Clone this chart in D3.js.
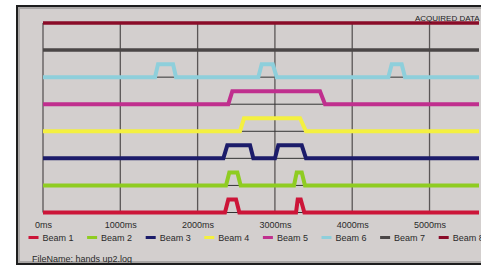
<!DOCTYPE html>
<html><head><meta charset="utf-8">
<script src="https://cdn.jsdelivr.net/npm/d3@7"></script>
<style>html,body{margin:0;padding:0;background:#fff;overflow:hidden}svg{display:block}</style>
</head><body><svg id="c" width="481" height="267"></svg>
<script>
// Data: transitions [time ms, level 0/1] per beam
const beamNames = ["Beam 1","Beam 2","Beam 3","Beam 4","Beam 5","Beam 6","Beam 7","Beam 8"];
const beamColors = ["#cc1538","#8fcc22","#1c1c6a","#f4f040","#c02f8e","#8ecfdb","#4a4646","#8a0c28"];
const beam1 = [[0,0],[2354,0],[2397,1],[2497,1],[2540,0],[3273,0],[3295,1],[3334,1],[3381,0],[5650,0]];
const beam2 = [[0,0],[2367,0],[2410,1],[2514,1],[2557,0],[3247,0],[3282,1],[3347,1],[3389,0],[5650,0]];
const beam3 = [[0,0],[2333,0],[2384,1],[2678,1],[2721,0],[3001,0],[3044,1],[3347,1],[3402,0],[5650,0]];
const beam4 = [[0,0],[2548,0],[2600,1],[3325,1],[3402,0],[5650,0]];
const beam5 = [[0,0],[2397,0],[2449,1],[3583,1],[3648,0],[5650,0]];
const beam6 = [[0,0],[1449,0],[1488,1],[1682,1],[1721,0],[2785,0],[2829,1],[2972,1],[3023,0],[4467,0],[4511,1],[4640,1],[4683,0],[5650,0]];
const beam7 = [[0,0],[5650,0]];
const beam8 = [[0,0],[5650,0]];
const beamData = [beam1,beam2,beam3,beam4,beam5,beam6,beam7,beam8];
const tickValues = [0,1000,2000,3000,4000,5000];
const tickLabels = ["0ms","1000ms","2000ms","3000ms","4000ms","5000ms"];
const title = "ACQUIRED DATA";
const fileName = "FileName: hands up2.log";

const svg = d3.select("#c");
// frame
svg.append("rect").attr("x",16).attr("y",5).attr("width",480).attr("height",260).attr("fill","#1e1e1e");
svg.append("rect").attr("x",18).attr("y",7).attr("width",480).attr("height",256).attr("fill","#a9a6a5");
svg.append("rect").attr("x",20).attr("y",9).attr("width",480).attr("height",252).attr("fill","#d3cfce");

const x = d3.scaleLinear().domain([0,5640]).range([43,479]);
const yBase = d3.scalePoint().domain(beamNames).range([212.5,23]);
const yLevel = d3.scaleLinear().domain([0,1]).range([0,-13]);

const g = svg.append("g");
svg.append("clipPath").attr("id","pc").append("rect").attr("x",30).attr("y",10).attr("width",449).attr("height",210);

// grid
g.selectAll("line.v").data(tickValues).join("line")
 .attr("x1",d=>x(d)).attr("x2",d=>x(d)).attr("y1",yBase("Beam 8")).attr("y2",yBase("Beam 1"))
 .attr("stroke","#5a5656").attr("stroke-width",1.3);
g.selectAll("line.h").data(beamNames).join("line")
 .attr("x1",x(0)).attr("x2",x(5640)).attr("y1",d=>yBase(d)).attr("y2",d=>yBase(d))
 .attr("stroke","#333").attr("stroke-width",1);

const line = d3.line();
const lg = g.append("g").attr("clip-path","url(#pc)");
beamData.forEach((pts,i)=>{
  const b = yBase(beamNames[i]);
  lg.append("path").attr("d", line(pts.map(p=>[x(p[0]), b + yLevel(p[1])])))
    .attr("fill","none").attr("stroke",beamColors[i]).attr("stroke-width",i>=6?3.5:4)
    .attr("stroke-linejoin","miter");
});

// axis labels
const ax = d3.axisBottom(x).tickValues(tickValues).tickFormat((d,i)=>tickLabels[i]).tickSize(0).tickPadding(0);
const axg = svg.append("g").attr("transform","translate(0,222)").call(ax);
axg.select(".domain").remove();
axg.selectAll("text").attr("font-family","Liberation Sans, Arial, sans-serif").attr("font-size","9px").attr("fill","#2a2a2a");

// legend
const leg = svg.append("g");
beamNames.forEach((n,i)=>{
  const tx = 42.5 + i*58.6;
  leg.append("rect").attr("x",tx-14).attr("y",236).attr("width",10).attr("height",3).attr("fill",beamColors[i]);
  leg.append("text").attr("x",tx).attr("y",240.5).text(n)
    .attr("font-family","Liberation Sans, Arial, sans-serif").attr("font-size","9px").attr("fill","#2a2a2a");
});

svg.append("text").attr("x",415).attr("y",20.5).text(title)
  .attr("font-family","Liberation Sans, Arial, sans-serif").attr("font-size","8px").attr("fill","#222");
svg.append("text").attr("x",32).attr("y",262).text(fileName)
  .attr("font-family","Liberation Sans, Arial, sans-serif").attr("font-size","9px").attr("fill","#2a2a2a");
</script></body></html>
